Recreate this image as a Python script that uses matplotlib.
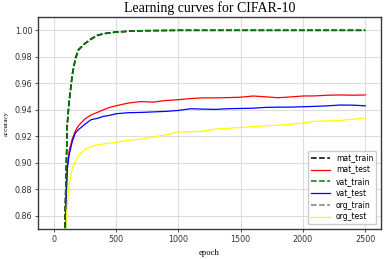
import matplotlib
matplotlib.use("Agg")
import matplotlib.pyplot as plt

epochs = [0, 90, 100, 110, 125, 150, 175, 200, 250, 300, 350, 400, 450, 500,
          600, 700, 800, 900, 1000, 1100, 1200, 1300, 1400, 1500, 1600, 1700,
          1800, 1900, 2000, 2100, 2200, 2300, 2400, 2500]

mat_train = [0.30, 0.850, 0.890, 0.930, 0.947, 0.967, 0.979, 0.9855, 0.990, 0.9935, 0.9962, 0.9975,
             0.9981, 0.9987, 0.9993, 0.9997, 0.9998, 0.9999, 1.0, 1.0, 1.0, 1.0, 1.0, 1.0,
             1.0, 1.0, 1.0, 1.0, 1.0, 1.0, 1.0, 1.0, 1.0, 1.0]
vat_train = [0.30, 0.849, 0.889, 0.929, 0.946, 0.966, 0.978, 0.9850, 0.9898, 0.9932, 0.9960, 0.9973,
             0.9980, 0.9986, 0.9993, 0.9997, 0.9998, 0.9999, 1.0, 1.0, 1.0, 1.0, 1.0, 1.0,
             1.0, 1.0, 1.0, 1.0, 1.0, 1.0, 1.0, 1.0, 1.0, 1.0]
org_train = [0.30, 0.848, 0.888, 0.928, 0.945, 0.966, 0.978, 0.9852, 0.9899, 0.9933, 0.9961, 0.9974,
             0.9981, 0.9986, 0.9993, 0.9997, 0.9998, 0.9999, 1.0, 1.0, 1.0, 1.0, 1.0, 1.0,
             1.0, 1.0, 1.0, 1.0, 1.0, 1.0, 1.0, 1.0, 1.0, 1.0]
mat_test = [0.30, 0.820, 0.872, 0.898, 0.909, 0.918, 0.924, 0.928, 0.933, 0.936, 0.938, 0.940,
            0.9418, 0.943, 0.9451, 0.9462, 0.9458, 0.947, 0.9476, 0.9485, 0.9490, 0.9490,
            0.9492, 0.9495, 0.9504, 0.9498, 0.9491, 0.9497, 0.9504, 0.9505, 0.9510, 0.9512,
            0.9510, 0.9512]
vat_test = [0.30, 0.820, 0.870, 0.895, 0.906, 0.916, 0.9225, 0.925, 0.929, 0.9325, 0.9335, 0.935,
            0.9358, 0.9370, 0.9378, 0.9380, 0.9384, 0.9388, 0.9395, 0.9408, 0.9405, 0.9403,
            0.9408, 0.9410, 0.9412, 0.9418, 0.9420, 0.9420, 0.9423, 0.9426, 0.9430, 0.9436,
            0.9435, 0.9430]
org_test = [0.30, 0.800, 0.855, 0.868, 0.884, 0.8957, 0.901, 0.9055, 0.910, 0.9122, 0.9135, 0.9142,
            0.9148, 0.9152, 0.9170, 0.9178, 0.9195, 0.9210, 0.9232, 0.9235, 0.9238, 0.9255,
            0.9260, 0.9266, 0.9272, 0.9280, 0.9283, 0.9290, 0.9300, 0.9313, 0.9316, 0.9320,
            0.9328, 0.9338]

fig = plt.figure(figsize=(3.9, 2.59), dpi=100)
ax = fig.add_axes([0.0974, 0.116, 0.879, 0.818])

tick_fs = 5.8
ax.plot(epochs, mat_train, color="black", ls="--", lw=1.1, label="mat_train", zorder=2.2)
ax.plot(epochs, mat_test, color="red", lw=0.9, label="mat_test", zorder=2)
ax.plot(epochs, vat_train, color="green", ls="--", lw=1.1, label="vat_train", zorder=2.4)
ax.plot(epochs, vat_test, color="blue", lw=0.9, label="vat_test", zorder=2)
ax.plot(epochs, org_train, color="gray", ls="--", lw=1.1, label="org_train", zorder=2.1)
ax.plot(epochs, org_test, color="yellow", lw=0.9, label="org_test", zorder=2)

ax.set_ylim(0.85, 1.01)
ax.set_xticks([0, 500, 1000, 1500, 2000, 2500])
ax.set_yticks([0.86, 0.88, 0.90, 0.92, 0.94, 0.96, 0.98, 1.00])
ax.grid(True, color="#dddddd", lw=0.8)
ax.set_axisbelow(True)
ax.tick_params(labelsize=tick_fs, length=2.5, width=0.6, pad=1.5, colors="#333333")
for s in ax.spines.values():
    s.set_color("#3a3a3a")
    s.set_linewidth(1.0)

ax.set_title("Learning curves for CIFAR-10", family="Liberation Serif", fontsize=10, pad=4)
ax.set_xlabel("epoch", family="Liberation Serif", fontsize=6.2, labelpad=4)
ax.set_ylabel("accuracy", family="Liberation Serif", fontsize=5, labelpad=4)

ax.legend(loc="lower right", fontsize=5.5, handlelength=2.4, labelspacing=0.36,
          borderaxespad=0.6, edgecolor="#cccccc", framealpha=1)

fig.savefig("out.png", dpi=100)
